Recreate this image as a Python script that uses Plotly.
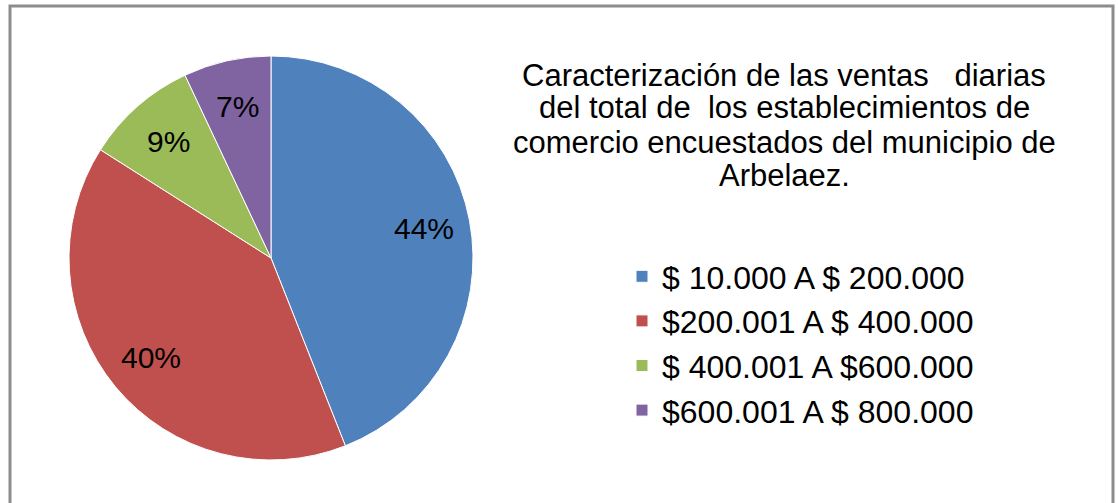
import math
import plotly.graph_objects as go

categories = ["$ 10.000 A $ 200.000", "$200.001 A $ 400.000", "$ 400.001 A $600.000", "$600.001 A $ 800.000"]
values = [44, 40, 9, 7]
colors = ["#4F81BD", "#C0504D", "#9BBB59", "#8064A2"]
title_lines = ["Caracterización de las ventas   diarias",
               "del total de  los establecimientos de",
               "comercio encuestados del municipio de",
               "Arbelaez."]

W, H = 1118, 503
FONT = "Liberation Sans, Arial"

# pie placement (pixels)
cx, cy, R = 271, 258, 202
dom_x = [(cx - R) / W, (cx + R) / W]
dom_y = [1 - (cy + R) / H, 1 - (cy - R) / H]

fig = go.Figure(go.Pie(
    labels=categories, values=values, sort=False, direction="clockwise", rotation=0,
    marker=dict(colors=colors, line=dict(color="white", width=1)),
    textposition="none",
    domain=dict(x=dom_x, y=dom_y),
    hoverinfo="label+percent",
))

# percentage labels placed along each slice's mid-angle
total = sum(values)
cum = 0
for v in values:
    mid = (cum + v / 2) / total * 2 * math.pi
    cum += v
    r = 0.77 * R
    px = cx + r * math.sin(mid)
    py = cy - r * math.cos(mid)
    fig.add_annotation(text=f"{round(v / total * 100)}%", xref="paper", yref="paper",
                       x=px / W, y=1 - py / H, xanchor="center", yanchor="middle",
                       showarrow=False, font=dict(family=FONT, size=30, color="black"))

title_y = [75, 108, 142, 175]
for line, ty in zip(title_lines, title_y):
    fig.add_annotation(text=line, xref="paper", yref="paper", x=784 / W, y=1 - ty / H,
                       xanchor="center", yanchor="middle", showarrow=False,
                       font=dict(family=FONT, size=31, color="black"))

fig.add_shape(type="rect", xref="paper", yref="paper", x0=10 / W, x1=1113 / W, y0=-0.05, y1=1 - 6 / H,
              line=dict(color="#8C8C8C", width=3), fillcolor="rgba(0,0,0,0)")

fig.update_layout(
    width=W, height=H, margin=dict(l=0, r=0, t=0, b=0),
    paper_bgcolor="white", plot_bgcolor="white",
    showlegend=True,
    legend=dict(x=622 / W, y=1 - 249 / H, xanchor="left", yanchor="top",
                font=dict(family=FONT, size=32, color="black"),
                bgcolor="rgba(0,0,0,0)", itemwidth=30),
)

fig.write_html("out.html", config={"displayModeBar": False},
               post_script="document.body.style.margin='0px';")
